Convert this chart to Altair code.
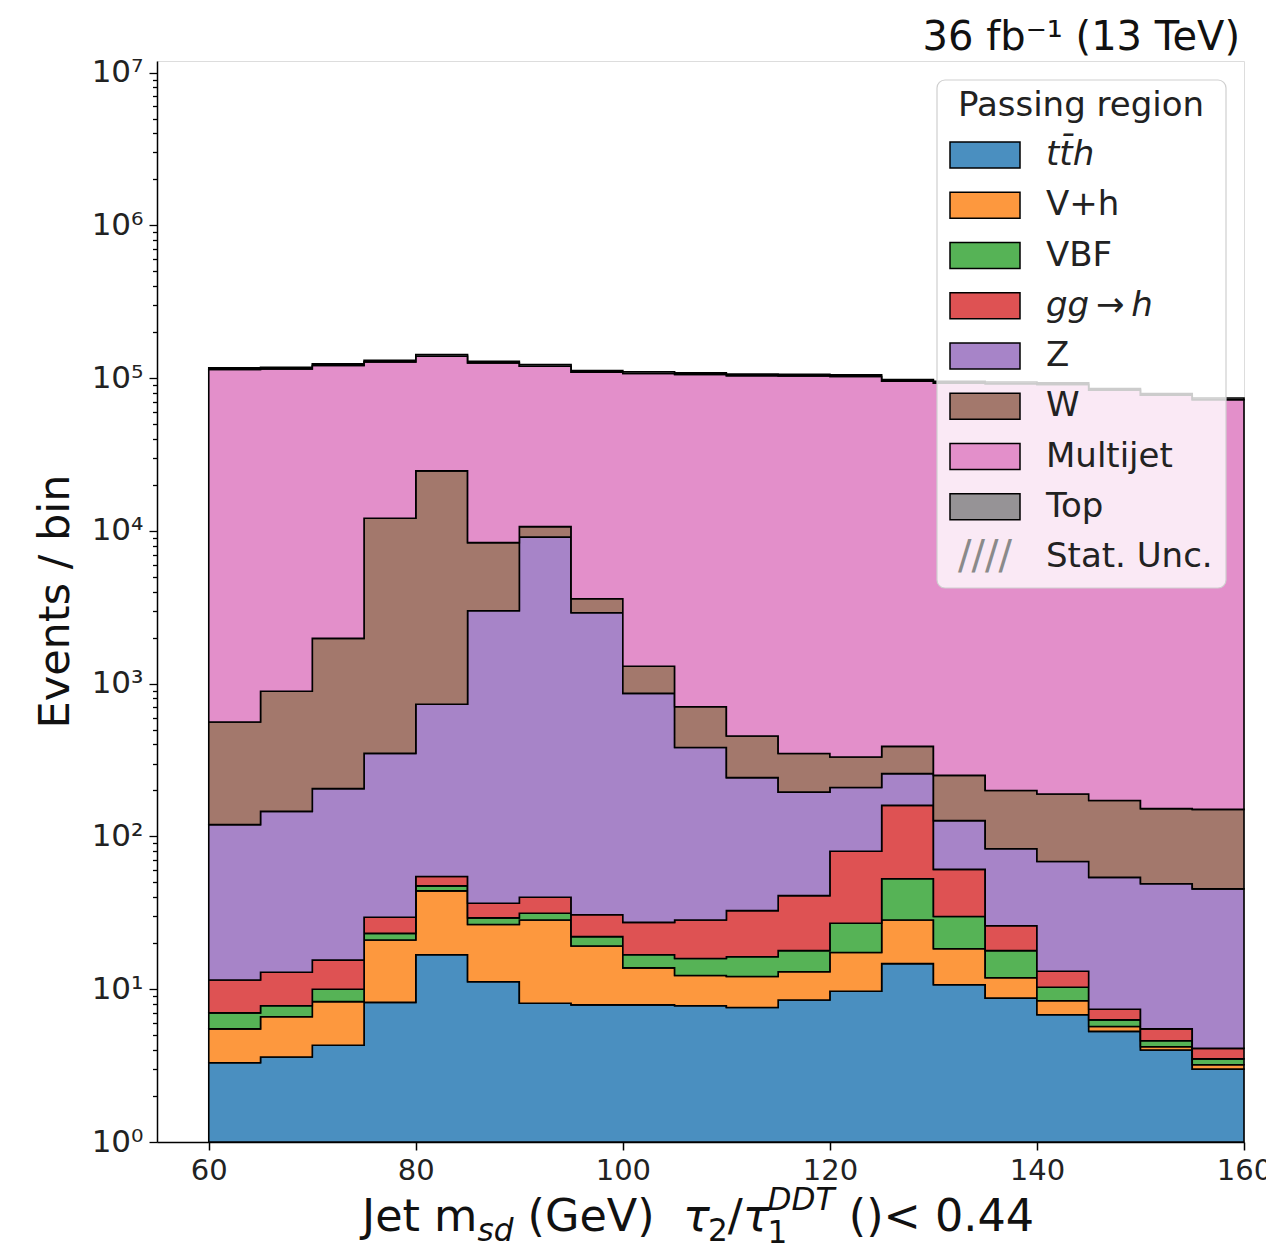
import altair as alt
import pandas as pd

# Soft-drop jet mass bins (GeV)
bin_edges = [60, 65, 70, 75, 80, 85, 90, 95, 100, 105, 110, 115, 120, 125,
             130, 135, 140, 145, 150, 155, 160]

# Expected events per bin for each process (stacked bottom to top)
tth = [3.3, 3.6, 4.3, 8.2, 16.8, 11.2, 8.1, 7.9, 7.9, 7.8, 7.6, 8.5, 9.7, 14.7,
       10.7, 8.75, 6.8, 5.3, 4.0, 3.0]
vh = [2.2, 3.0, 4.0, 12.8, 27.2, 15.3, 20.3, 11.3, 5.9, 4.5, 4.5, 4.5, 7.7, 13.7,
      7.7, 3.15, 1.6, 0.4, 0.2, 0.2]
vbf = [1.5, 1.2, 1.7, 2.2, 3.5, 2.8, 3.0, 2.9, 3.0, 3.6, 4.2, 4.9, 9.6, 24.4,
       11.5, 6.0, 1.9, 0.6, 0.4, 0.3]
ggh = [4.5, 5.1, 5.5, 6.4, 7.2, 7.2, 8.6, 8.6, 10.6, 12.5, 16.4, 23.1, 53, 107,
       31, 8.1, 2.8, 1.1, 0.9, 0.6]
zjets = [108, 133, 190, 320, 679, 2963, 9060, 2879, 836, 354, 210, 154, 129, 98,
         66, 57, 55.5, 46.6, 43.5, 41.3]
wjets = [442, 747, 1774, 11750, 23966, 5380, 1570, 690, 437, 323, 212, 154, 122,
         131, 124, 117, 121, 118, 103, 105]
multijet = [113200, 114000, 118900, 115600, 114300, 117400, 109000, 105600, 106000,
            105100, 103400, 103000, 102100, 94900, 92500, 91700, 90600, 83200,
            77000, 72000]
top = [2900, 2900, 3100, 3300, 3600, 3200, 3000, 2800, 2700, 2700, 2600, 2600,
       2600, 2400, 2400, 2300, 2300, 2100, 2000, 1900]

process_names = ["tth", "V+h", "VBF", "ggh", "Z", "W", "Multijet", "Top"]
process_values = [tth, vh, vbf, ggh, zjets, wjets, multijet, top]
process_colors = ["#4a8fc0", "#fd983e", "#56b356", "#de5253", "#a784c8",
                  "#a3786c", "#e38fca", "#969396"]

# Legend entries
legend_labels = ["tt\u0304h", "V+h", "VBF", "gg\u2009\u2192\u2009h", "Z", "W",
                 "Multijet", "Top", "Stat. Unc."]
legend_italic = [True, False, False, True, False, False, False, False, False]

Y_MIN, Y_MAX = 1.0, 1.19e7
X_MIN, X_MAX = 55, 160
W, H = 1087, 1081
FONT = "DejaVu Sans"

# ---- stacked step histogram table ----
rows = []
lower = [0.0] * (len(bin_edges) - 1)
for name, vals in zip(process_names, process_values):
    upper = [lo + v for lo, v in zip(lower, vals)]
    for i, edge in enumerate(bin_edges):
        k = min(i, len(vals) - 1)
        rows.append({"process": name, "x": edge,
                     "lo": max(lower[k], Y_MIN), "hi": upper[k]})
    lower = upper
hist = pd.DataFrame(rows)

majors = [10 ** d for d in range(8)]
minors = [m * 10 ** d for d in range(7) for m in range(2, 10)]
sup = ["\u2070", "\u00b9", "\u00b2", "\u00b3", "\u2074", "\u2075", "\u2076", "\u2077"]
major_list = "[" + ",".join(str(v) for v in majors) + "]"
label_list = "[" + ",".join("'10" + s + "'" for s in sup) + "]"
label_expr = (f"indexof({major_list}, datum.value) >= 0 ? "
              f"{label_list}[indexof({major_list}, datum.value)] : ''")

x_scale = alt.Scale(domain=[X_MIN, X_MAX], nice=False, zero=False)
y_scale = alt.Scale(type="log", domain=[Y_MIN, Y_MAX], nice=False)

x_axis = alt.Axis(values=[60, 80, 100, 120, 140, 160], title=None, grid=False,
                  tickSize=8, tickWidth=1.5, tickColor="black", labelFontSize=29,
                  labelFont=FONT, labelColor="#222", labelPadding=6,
                  domainColor="black", domainWidth=1.5, labelFlush=False)
y_axis = alt.Axis(values=sorted(majors + minors), labelExpr=label_expr, grid=False,
                  tickSize={"condition": {"test": f"indexof({major_list}, datum.value) >= 0",
                                          "value": 8}, "value": 4.5},
                  tickWidth=1.3, tickColor="black", labelFontSize=31, labelFont=FONT,
                  labelColor="#222", labelPadding=6, domainColor="black",
                  domainWidth=1.5, title="Events / bin", titleFont=FONT,
                  titleFontSize=43, titleFontWeight="normal", titleColor="#111",
                  titleX=-102, titleY=540, titleAngle=270, titleAlign="center",
                  titleBaseline="middle")

areas = []
for name, color in zip(process_names, process_colors):
    areas.append(
        alt.Chart(hist[hist["process"] == name])
        .mark_area(interpolate="step-after", fill=color, stroke="black",
                   strokeWidth=1.6, opacity=1)
        .encode(x=alt.X("x:Q", scale=x_scale, axis=x_axis),
                y=alt.Y("hi:Q", scale=y_scale, axis=y_axis),
                y2="lo:Q")
    )
stack = alt.layer(*areas)

# ---- legend ----
leg = pd.DataFrame({"row": list(range(len(legend_labels))), "label": legend_labels,
                    "italic": legend_italic})
row_y = alt.Y("row:Q", scale=alt.Scale(domain=[0, 8], range=[94, 496]), axis=None)

legend_box = alt.Chart(pd.DataFrame({"k": [0]})).mark_rect(
    fill="white", fillOpacity=0.8, stroke="#cfcfcf", strokeWidth=1.2, cornerRadius=8
).encode(x=alt.value(780), x2=alt.value(1069), y=alt.value(19), y2=alt.value(527))

legend_title = alt.Chart(pd.DataFrame({"t": ["Passing region"]})).mark_text(
    font=FONT, fontSize=34, color="#222", align="center", baseline="middle"
).encode(x=alt.value(924), y=alt.value(45), text="t:N")

swatch_shape = "M-1,-0.37L1,-0.37L1,0.37L-1,0.37Z"
swatches = alt.Chart(leg[leg["row"] < 8]).mark_point(
    shape=swatch_shape, size=4900, filled=True, stroke="black", strokeWidth=1.5,
    opacity=1, fillOpacity=1
).encode(x=alt.value(828), y=row_y,
         fill=alt.Fill("label:N", scale=alt.Scale(domain=legend_labels[:8],
                                                  range=process_colors), legend=None))

hatch = alt.Chart(leg[leg["row"] == 8]).mark_text(
    font=FONT, fontSize=40, color="#8a8a8a", align="center", baseline="middle",
    text="////"
).encode(x=alt.value(828), y=row_y)

labels_plain = alt.Chart(leg[~leg["italic"]]).mark_text(
    font=FONT, fontSize=34, color="#222", align="left", baseline="middle"
).encode(x=alt.value(889), y=row_y, text="label:N")
labels_italic = alt.Chart(leg[leg["italic"]]).mark_text(
    font=FONT, fontSize=34, fontStyle="italic", color="#222", align="left",
    baseline="middle"
).encode(x=alt.value(889), y=row_y, text="label:N")

legend = alt.layer(legend_box, legend_title, swatches, hatch, labels_plain,
                   labels_italic)

# ---- luminosity label ----
lumi = alt.Chart(pd.DataFrame({"t": ["36 fb\u207b\u00b9 (13 TeV)"]})).mark_text(
    font=FONT, fontSize=40, color="#111", align="right", baseline="alphabetic"
).encode(x=alt.value(1083), y=alt.value(-11), text="t:N")

# ---- x-axis title with sub/superscripts, laid out from DejaVu Sans advances ----
EM = {"J": 0.295, "e": 0.615, "t": 0.392, " ": 0.318, "m": 0.974, "s": 0.521,
      "d": 0.635, "(": 0.390, "G": 0.776, "V": 0.684, ")": 0.390, "\u03c4": 0.56,
      "/": 0.337, "0": 0.636, "1": 0.636, "2": 0.636, "4": 0.636, "D": 0.770,
      "T": 0.611, "<": 0.838, ".": 0.318}
F = 44.5


def adv(s, size):
    return sum(EM.get(c, 0.6) for c in s) * size


pieces = [
    [("Jet m", "normal", 1.0, 0.0)],
    [("sd", "italic", 0.7, 0.22)],
    [(" (GeV)  ", "normal", 1.0, 0.0)],
    [("\u03c4", "italic", 1.0, 0.0)],
    [("2", "normal", 0.7, 0.22)],
    [("/", "normal", 1.0, 0.0)],
    [("\u03c4", "italic", 1.0, 0.0)],
    [("1", "normal", 0.7, 0.26), ("DDT", "italic", 0.7, -0.47)],
    [(" ()< 0.44", "normal", 1.0, 0.0)],
]
total = sum(max(adv(s, F * f) for s, _, f, _ in grp) for grp in pieces)
cursor = 541 - total / 2
baseline_y = 1170
title_marks = []
for grp in pieces:
    step = 0
    for s, style, f, shift in grp:
        size = F * f
        lead = adv(s[: len(s) - len(s.lstrip())], size)
        title_marks.append(
            alt.Chart(pd.DataFrame({"t": [s.strip()]})).mark_text(
                font=FONT, fontSize=size, fontStyle=style, color="#111",
                align="left", baseline="alphabetic"
            ).encode(x=alt.value(cursor + lead), y=alt.value(baseline_y + shift * F),
                     text="t:N")
        )
        step = max(step, adv(s, size))
    cursor += step

chart = (
    alt.layer(stack, legend, lumi, *title_marks)
    .resolve_scale(y="independent")
    .properties(width=W, height=H,
                padding={"left": 157, "top": 61, "right": 22, "bottom": 110},
                autosize=alt.AutoSizeParams(type="none"))
    .configure_view(stroke="black", strokeWidth=1.5)
    .configure(background="white")
)

chart.save("out.html", embed_options={"renderer": "svg", "actions": False})
